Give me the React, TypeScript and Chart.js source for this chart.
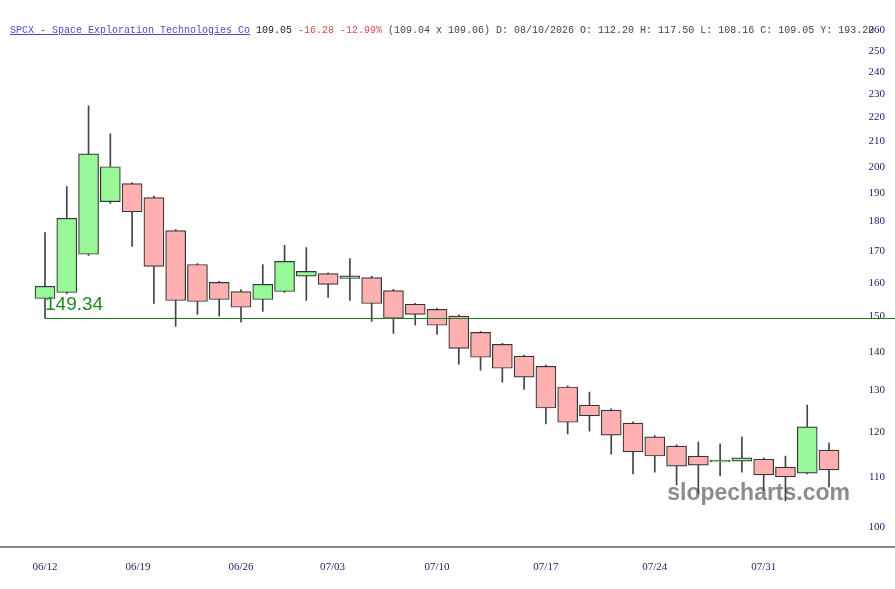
import React, { useEffect, useRef } from 'react';
import { Chart, registerables } from 'chart.js';

Chart.register(...registerables);

// ---- data ----
const dates = ['06/12','06/15','06/16','06/17','06/18','06/22','06/23','06/24','06/25','06/26','06/29','06/30','07/01','07/02','07/06','07/07','07/08','07/09','07/10','07/13','07/14','07/15','07/16','07/17','07/20','07/21','07/22','07/23','07/24','07/27','07/28','07/29','07/30','07/31','08/03','08/04','08/05'];
const opens  = [155.2,157.0,169.0,187.0,193.6,188.5,176.9,165.7,160.1,157.3,154.9,157.3,162.0,162.8,161.3,161.6,157.6,153.5,152.0,150.0,145.4,142.1,138.9,136.2,130.9,126.4,125.2,122.1,118.9,116.8,114.6,113.3,113.5,113.9,112.2,110.9,115.9];
const highs  = [176.2,192.5,224.9,213.1,194.0,189.0,177.2,166.0,160.4,157.9,165.7,171.9,171.2,163.1,167.6,162.0,158.0,153.8,152.3,150.4,145.7,142.4,139.2,136.5,131.2,129.6,125.5,122.4,119.2,117.1,117.7,117.3,118.9,114.2,114.6,126.4,117.5];
const lows   = [149.34,156.6,168.6,186.4,171.6,153.7,147.1,150.5,150.0,148.3,151.4,157.0,154.6,155.5,154.6,148.5,145.1,147.4,144.8,136.8,135.2,132.1,130.3,121.9,119.6,120.2,115.0,110.7,111.1,108.4,106.7,110.3,111.1,107.2,105.1,110.7,108.0];
const closes = [158.9,181.1,205.0,200.0,183.4,165.1,154.6,154.3,154.9,152.6,159.5,166.7,163.5,159.5,162.1,153.7,149.4,150.5,147.4,141.0,138.6,135.7,133.4,125.7,122.3,123.8,119.3,115.5,114.6,112.4,112.6,113.7,114.2,110.5,110.1,121.2,111.6];

const levelValue = 149.34;
const yTickValues = [100,110,120,130,140,150,160,170,180,190,200,210,220,230,240,250,260];
const xTickLabels = ['06/12','06/19','06/26','07/03','07/10','07/17','07/24','07/31'];
const xTickIndex  = [0, 4.27, 9, 13.2, 18, 23, 28, 33];

// axis ranges
const X_MIN = -2.066;
const X_MAX = 39.03;
const Y_MIN = 96.23;
const Y_MAX = 275.7;

const GREEN = '#98f898';
const RED = '#ffb0b0';
const EDGE = '#363636';

const overlayPlugin = {
  id: 'overlay',
  beforeDatasetsDraw(chart: any) {
    const { ctx, chartArea } = chart;
    ctx.save();
    ctx.font = 'bold 23px "Liberation Sans", Arial, sans-serif';
    ctx.fillStyle = '#8c8c8c';
    ctx.textAlign = 'right';
    ctx.textBaseline = 'alphabetic';
    ctx.fillText('slopecharts.com', chartArea.right - 45, chartArea.bottom - 47);
    ctx.restore();
  },
  afterDatasetsDraw(chart: any) {
    const { ctx } = chart;
    const xs = chart.scales.x;
    const ys = chart.scales.y;
    ctx.save();
    ctx.font = '19px "Liberation Sans", Arial, sans-serif';
    ctx.fillStyle = '#1e8a1e';
    ctx.textAlign = 'left';
    ctx.textBaseline = 'alphabetic';
    ctx.fillText(levelValue.toFixed(2), xs.getPixelForValue(0), ys.getPixelForValue(levelValue) - 8);
    ctx.restore();
  },
};

function CandleChart() {
  const ref = useRef<HTMLCanvasElement | null>(null);
  useEffect(() => {
    if (!ref.current) return;
    const wickData = dates.map((_, i) => ({ x: i, y: [lows[i], highs[i]] }));
    const bodyData = dates.map((_, i) => ({ x: i, y: [opens[i], closes[i]] }));
    const bodyColors = dates.map((_, i) => (closes[i] >= opens[i] ? GREEN : RED));
    const chart = new Chart(ref.current, {
      type: 'bar',
      data: {
        datasets: [
          {
            type: 'line',
            data: [{ x: 0, y: levelValue }, { x: X_MAX, y: levelValue }],
            borderColor: '#1f7a1f',
            borderWidth: 1.2,
            pointRadius: 0,
            order: 0,
          } as any,
          {
            type: 'bar',
            data: bodyData,
            backgroundColor: bodyColors,
            borderColor: EDGE,
            borderWidth: 1.2,
            borderSkipped: false,
            barThickness: 20,
            grouped: false,
            order: 1,
          } as any,
          {
            type: 'bar',
            data: wickData,
            backgroundColor: '#444444',
            borderWidth: 0,
            barThickness: 1,
            grouped: false,
            order: 2,
          } as any,
        ],
      },
      options: {
        animation: false,
        responsive: false,
        maintainAspectRatio: false,
        layout: { padding: { left: 0, right: 0, top: 0, bottom: 1 } },
        plugins: { legend: { display: false }, tooltip: { enabled: false } },
        scales: {
          x: {
            type: 'linear',
            min: X_MIN,
            max: X_MAX,
            offset: false,
            grid: { display: false, drawTicks: false },
            border: { display: true, color: '#8a8a8a', width: 2 },
            afterBuildTicks: (scale: any) => {
              scale.ticks = xTickIndex.map((v) => ({ value: v }));
            },
            ticks: {
              autoSkip: false,
              maxRotation: 0,
              padding: 14,
              color: '#22226e',
              font: { family: '"Liberation Serif", "Times New Roman", serif', size: 11 },
              callback: (_v: any, i: number) => xTickLabels[i],
            },
          },
          y: {
            type: 'logarithmic',
            position: 'right',
            min: Y_MIN,
            max: Y_MAX,
            bounds: 'data',
            grid: { display: false, drawTicks: false },
            border: { display: false },
            afterBuildTicks: (scale: any) => {
              scale.ticks = yTickValues.map((v) => ({ value: v }));
            },
            ticks: {
              mirror: true,
              padding: -10,
              color: '#22226e',
              font: { family: '"Liberation Serif", "Times New Roman", serif', size: 11 },
              callback: (v: any) => String(v),
            },
          },
        },
      },
      plugins: [overlayPlugin],
    } as any);
    return () => chart.destroy();
  }, []);
  return <canvas ref={ref} width={895} height={589} style={{ display: 'block', width: 895, height: 589 }} />;
}

export default function App() {
  const mono = '"Liberation Mono", "Courier New", monospace';
  return (
    <div style={{ position: 'fixed', left: 0, top: 0, width: 895, height: 589, background: '#fff', overflow: 'hidden' }}>
      <CandleChart />
      <div
        style={{
          position: 'absolute',
          left: 10,
          top: 25,
          fontFamily: mono,
          fontSize: 10,
          lineHeight: '12px',
          whiteSpace: 'pre',
          color: '#444',
        }}
      >
        <span style={{ color: '#4a4ac8', textDecoration: 'underline' }}>SPCX - Space Exploration Technologies Co</span>
        <span style={{ color: '#222' }}> 109.05 </span>
        <span style={{ color: '#e04848' }}>-16.28 -12.99%</span>
        <span> (109.04 x 109.06) D: 08/10/2026 O: 112.20 H: 117.50 L: 108.16 C: 109.05 Y: 193.20</span>
      </div>
    </div>
  );
}
